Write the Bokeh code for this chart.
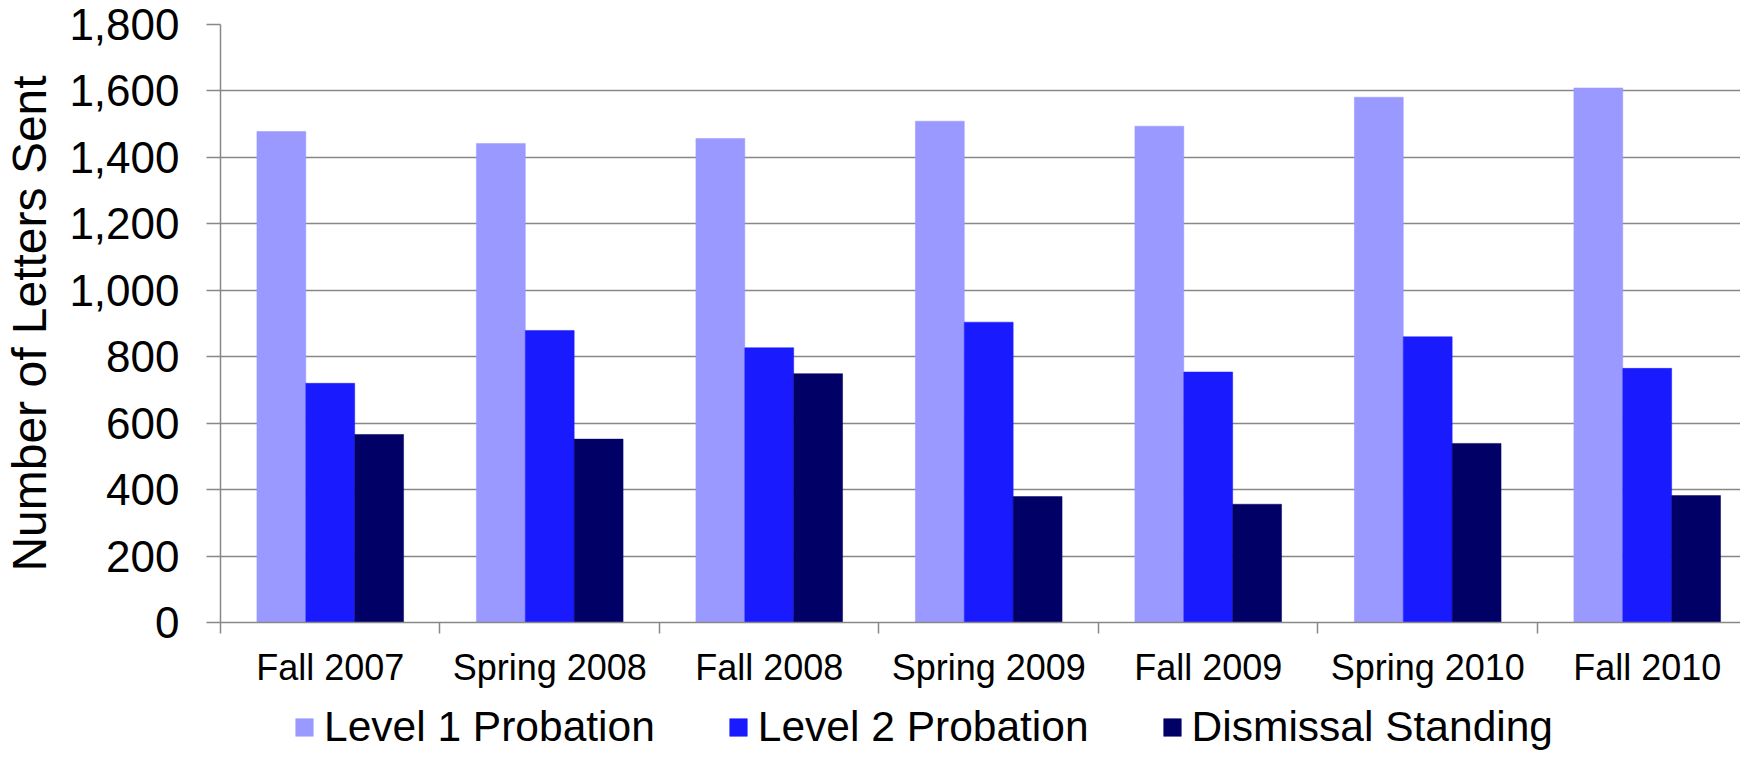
import numpy as np
from bokeh.plotting import figure
from bokeh.layouts import column
from bokeh.models import (Range1d, FixedTicker, Legend, LegendItem, ColumnDataSource,
                          NumeralTickFormatter)
from bokeh.transform import dodge
from bokeh.embed import file_html
from bokeh.resources import INLINE

# ---------------- data ----------------
categories = ["Fall 2007", "Spring 2008", "Fall 2008", "Spring 2009",
              "Fall 2009", "Spring 2010", "Fall 2010"]
level1 = [1478, 1442, 1457, 1509, 1494, 1581, 1609]
level2 = [720, 879, 827, 904, 754, 860, 765]
dismissal = [566, 552, 749, 379, 356, 539, 382]
series_names = ["Level 1 Probation", "Level 2 Probation", "Dismissal Standing"]
y_ticks = [0, 200, 400, 600, 800, 1000, 1200, 1400, 1600, 1800]
y_title = "Number of Letters Sent"

# ---------------- styling ----------------
colors = ["#9999FF", "#1A1AFF", "#000066"]
FONT = "Liberation Sans"
GRID = "#888888"
bar_w = 0.2227
fields = ["l1", "l2", "d"]
offsets = [-bar_w, 0.0, bar_w]

n = len(categories)
centers = np.arange(n) + 0.5
src = ColumnDataSource(dict(x=centers, l1=level1, l2=level2, d=dismissal))

W = 1740
LEFT = 217
p = figure(width=W, height=691, output_backend="svg", toolbar_location=None,
           x_range=Range1d(0, 6.925), y_range=Range1d(0, y_ticks[-1]),
           min_border_left=LEFT, min_border_top=24, min_border_right=0,
           min_border_bottom=69)
p.outline_line_color = None
p.background_fill_color = "white"

renderers = []
for off, field, col in zip(offsets, fields, colors):
    r = p.vbar(x=dodge("x", off, range=p.x_range), top=field, width=bar_w,
               bottom=0, source=src, fill_color=col, line_color=col, line_width=0.5)
    renderers.append(r)

# y axis
p.yaxis.ticker = FixedTicker(ticks=y_ticks, minor_ticks=[])
p.yaxis.formatter = NumeralTickFormatter(format="0,0")
p.yaxis.axis_label = y_title
p.yaxis.axis_label_text_font = FONT
p.yaxis.axis_label_text_font_style = "normal"
p.yaxis.axis_label_text_font_size = "48px"
p.yaxis.axis_label_text_color = "black"
p.yaxis.axis_label_standoff = 10
p.yaxis.major_label_text_font = FONT
p.yaxis.major_label_text_font_size = "44px"
p.yaxis.major_label_text_color = "black"
p.yaxis.major_label_standoff = 27
p.yaxis.major_tick_out = 14
p.yaxis.major_tick_in = 0
p.yaxis.major_tick_line_color = GRID
p.yaxis.major_tick_line_width = 1.5
p.yaxis.axis_line_color = GRID
p.yaxis.axis_line_width = 1.5

# x axis: labels at category centres, tick marks at category boundaries
p.xaxis.ticker = FixedTicker(ticks=list(centers), minor_ticks=list(range(n + 1)))
p.xaxis.major_label_overrides = {float(c): lab for c, lab in zip(centers, categories)}
p.xaxis.major_label_text_font = FONT
p.xaxis.major_label_text_font_size = "36px"
p.xaxis.major_label_text_color = "black"
p.xaxis.major_label_standoff = 13
p.xaxis.major_tick_line_color = None
p.xaxis.major_tick_out = 11
p.xaxis.minor_tick_out = 11
p.xaxis.minor_tick_in = 0
p.xaxis.minor_tick_line_color = GRID
p.xaxis.minor_tick_line_width = 1.5
p.xaxis.axis_line_color = GRID
p.xaxis.axis_line_width = 1.5

p.xgrid.grid_line_color = None
p.ygrid.grid_line_color = GRID
p.ygrid.grid_line_width = 1.5

# ---------------- legend strip below the chart ----------------
p2 = figure(width=W, height=60, output_backend="svg", toolbar_location=None,
            x_range=Range1d(-20, -19), y_range=Range1d(0, 1),
            x_axis_type=None, y_axis_type=None,
            min_border_left=0, min_border_right=0, min_border_top=0, min_border_bottom=0)
p2.outline_line_color = None
p2.xgrid.grid_line_color = None
p2.ygrid.grid_line_color = None

leg_renderers = []
for off, field, col in zip(offsets, fields, colors):
    r = p2.vbar(x=dodge("x", off, range=p2.x_range), top=field, width=bar_w,
                bottom=0, source=src, fill_color=col, line_color=col, line_width=0.5)
    leg_renderers.append(r)

# the strip's frame is aligned with the chart frame, so offsets are from its left edge
legend = Legend(items=[LegendItem(label=nm, renderers=[r]) for nm, r in zip(series_names, leg_renderers)],
                orientation="horizontal", location=(290 - LEFT, 0),
                glyph_width=22, glyph_height=22, label_standoff=9, spacing=72,
                label_text_font=FONT, label_text_font_size="42.5px", label_text_color="black",
                border_line_color=None, background_fill_alpha=0, padding=0, margin=0)
p2.add_layout(legend, "center")

layout = column(p, p2, spacing=0)
open("out.html", "w").write(file_html(layout, INLINE))
